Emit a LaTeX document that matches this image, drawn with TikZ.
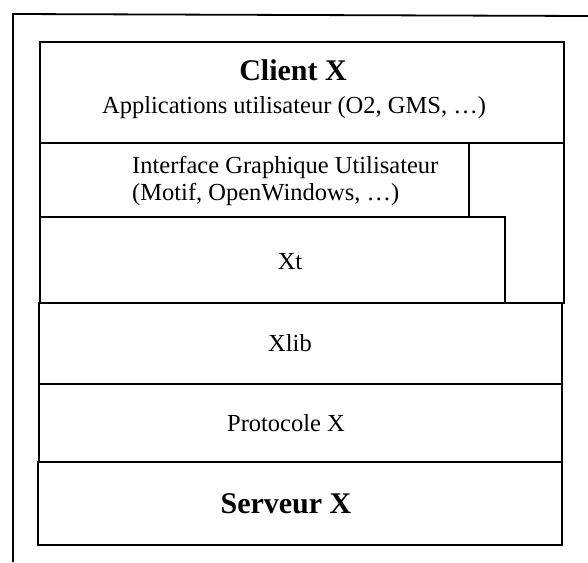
\documentclass[tikz,border=0pt]{standalone}
\usepackage{fontspec}
\setmainfont{Liberation Serif}
\begin{document}
\begin{tikzpicture}[x=1pt,y=-1pt,
  rule/.style={draw=black, line width=1.8pt, line join=miter},
  label/.style={inner sep=0pt, font=\fontsize{24.5}{27}\selectfont},
  title/.style={inner sep=0pt, font=\fontsize{30}{34}\selectfont\bfseries}]
\useasboundingbox (0,0) rectangle (588,562);
% frame of the page: left and top sides
\draw[rule] (13,562) -- (13,14) -- (588,16);
% client block with its inner layers
\draw[rule] (40,42) rectangle (564,303);
\draw[rule] (40,143) -- (564,143);
\draw[rule] (40,143) rectangle (469,217);
\draw[rule] (40,217) rectangle (505,303);
% lower layers
\draw[rule] (39,303) rectangle (562,384);
\draw[rule] (39,384) rectangle (562,462);
\draw[rule] (38,462) rectangle (562,545);
% texts
\node[title, anchor=base] (client) at (293,80) {Client X};
\node[label, anchor=base] (apps) at (294,113) {Applications utilisateur (O2, GMS, \dots)};
\node[label, anchor=west, align=left] (gui) at (132,181) {Interface Graphique Utilisateur\\(Motif, OpenWindows, \dots)};
\node[label, anchor=base] (xt) at (290,269) {Xt};
\node[label, anchor=base] (xlib) at (290,351) {Xlib};
\node[label, anchor=base] (proto) at (286,431) {Protocole X};
\node[title, anchor=base] (server) at (286,513) {Serveur X};
\end{tikzpicture}
\end{document}
